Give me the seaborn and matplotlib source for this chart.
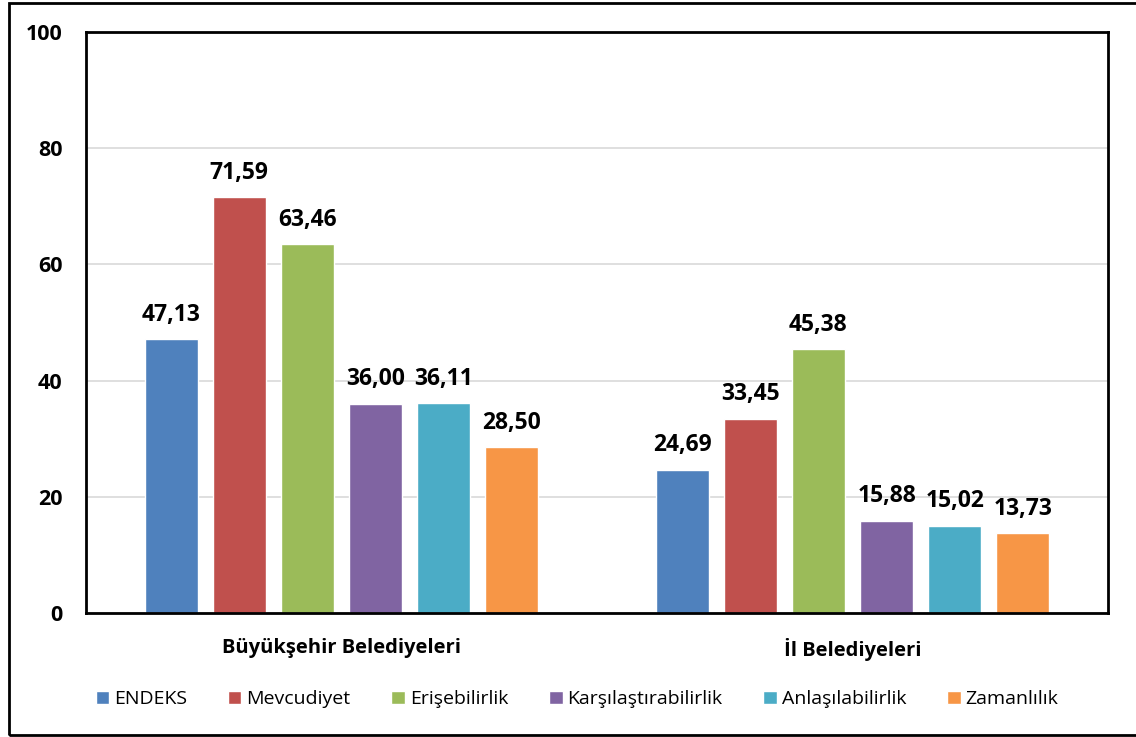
import pandas as pd
import matplotlib
matplotlib.use("Agg")
import matplotlib.pyplot as plt
import seaborn as sns
from matplotlib.patches import Rectangle

# chart data
groups = ["Büyükşehir Belediyeleri", "İl Belediyeleri"]
series = ["ENDEKS", "Mevcudiyet", "Erişebilirlik", "Karşılaştırabilirlik",
          "Anlaşılabilirlik", "Zamanlılık"]
buyuksehir = [47.13, 71.59, 63.46, 36.00, 36.11, 28.50]
il = [24.69, 33.45, 45.38, 15.88, 15.02, 13.73]
colors = ["#4F81BD", "#C0504D", "#9BBB59", "#8064A2", "#4BACC6", "#F79646"]
yticks = [0, 20, 40, 60, 80, 100]

rows = []
for g, vals in zip(groups, [buyuksehir, il]):
    for s, v in zip(series, vals):
        rows.append({"grup": g, "seri": s, "deger": v})
df = pd.DataFrame(rows)

sns.set_style("white")
plt.rcParams['font.family'] = ['Open Sans', 'DejaVu Sans']
plt.rcParams['text.color'] = 'black'
plt.rcParams['xtick.color'] = 'black'
plt.rcParams['ytick.color'] = 'black'

fig = plt.figure(figsize=(11.36, 7.37), dpi=100)
ax = fig.add_axes([86/1136, 1-613/737, (1108-86)/1136, (613-32)/737])

sns.barplot(data=df, x="grup", y="deger", hue="seri", order=groups,
            hue_order=series, palette=colors, width=0.8, gap=0.22,
            saturation=1, ax=ax, legend=True)

for cont in ax.containers:
    ax.bar_label(cont, labels=[f"{b.get_height():.2f}".replace(".", ",") for b in cont],
                 padding=9, fontsize=16.5, fontweight="bold", color="black")

ax.set_ylim(0, 100)
ax.set_yticks(yticks)
ax.set_yticklabels([str(t) for t in yticks], fontsize=15.5, fontweight="bold")
ax.tick_params(axis="y", length=0, pad=17, labelcolor="black")
ax.tick_params(axis="x", length=0, pad=18, labelcolor="black")
for lab in ax.get_xticklabels():
    lab.set_fontsize(14.5)
    lab.set_fontweight("bold")
ax.set_xlabel("")
ax.set_ylabel("")
ax.yaxis.grid(True, color="#D9D9D9", linewidth=1.2)
ax.set_axisbelow(True)
for sp in ax.spines.values():
    sp.set_visible(True)
    sp.set_color("black")
    sp.set_linewidth(2)

leg = ax.legend(loc="upper center", bbox_to_anchor=(0.4805, -0.12), ncol=6, frameon=False,
                fontsize=14, handlelength=0.7, handleheight=0.7, handletextpad=0.25,
                columnspacing=2.1, borderaxespad=0)
for t in leg.get_texts():
    t.set_color("black")

fig.patches.append(Rectangle((9/1136, 2/737), 1.2, 1-5/737, transform=fig.transFigure,
                             fill=False, edgecolor="black", linewidth=2))

fig.savefig("out.png", dpi=100)
